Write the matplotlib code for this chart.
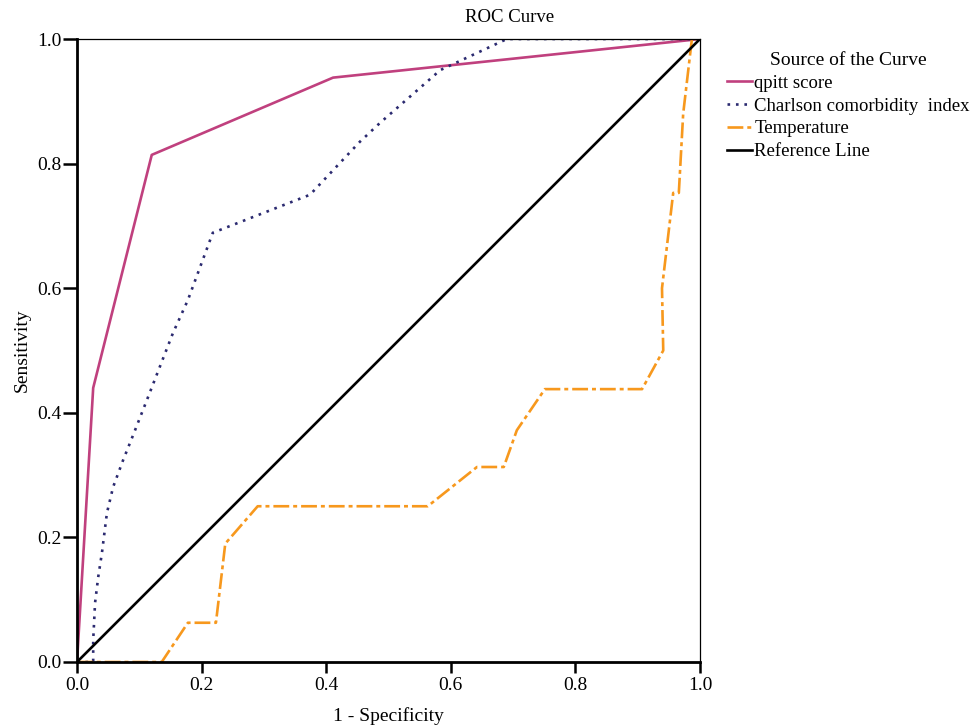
import matplotlib
matplotlib.use("Agg")
import matplotlib.pyplot as plt

plt.rcParams['font.family'] = ['Liberation Serif', 'DejaVu Serif']

# ROC points (1 - specificity, sensitivity)
qpitt_x = [0.0, 0.026, 0.12, 0.411, 1.0]
qpitt_y = [0.0, 0.44, 0.814, 0.938, 1.0]

charlson_x = [0.0, 0.026, 0.026, 0.029, 0.034, 0.04, 0.048, 0.058, 0.074, 0.09, 0.112,
              0.133, 0.154, 0.178, 0.218, 0.374, 0.454, 0.486, 0.583, 0.69, 1.0]
charlson_y = [0.0, 0.0, 0.035, 0.095, 0.136, 0.175, 0.239, 0.281, 0.324, 0.364, 0.42,
              0.474, 0.528, 0.581, 0.689, 0.75, 0.835, 0.865, 0.95, 1.0, 1.0]

temp_x = [0.0, 0.136, 0.178, 0.223, 0.238, 0.29, 0.563, 0.642, 0.685, 0.706, 0.751,
          0.907, 0.941, 0.939, 0.957, 0.966, 0.973, 0.987, 1.0]
temp_y = [0.0, 0.0, 0.063, 0.063, 0.19, 0.25, 0.25, 0.313, 0.313, 0.372, 0.438,
          0.438, 0.5, 0.6, 0.753, 0.753, 0.88, 1.0, 1.0]

ref_x = [0.0, 1.0]
ref_y = [0.0, 1.0]

fig = plt.figure(figsize=(9.74, 7.27), dpi=100)
ax = fig.add_axes([77/974, 65/727, 623/974, 623/727])

ax.plot(qpitt_x, qpitt_y, color='#C0407E', lw=1.9, label='qpitt score')
ax.plot(charlson_x, charlson_y, color='#2B2A70', lw=1.9, linestyle=(0, (1, 2.2)),
        label='Charlson comorbidity  index')
ax.plot(temp_x, temp_y, color='#F7981D', lw=1.9, linestyle=(0, (6, 1.5, 1.5, 1.5)),
        label='Temperature')
ax.plot(ref_x, ref_y, color='black', lw=1.9, label='Reference Line')

ax.set_xlim(0, 1)
ax.set_ylim(0, 1)
ax.set_xticks([0, 0.2, 0.4, 0.6, 0.8, 1.0])
ax.set_yticks([0, 0.2, 0.4, 0.6, 0.8, 1.0])
ax.xaxis.set_major_formatter(plt.FormatStrFormatter('%.1f'))
ax.yaxis.set_major_formatter(plt.FormatStrFormatter('%.1f'))
ax.tick_params(direction='out', width=1.8, labelsize=14)
ax.tick_params(axis='y', length=10, pad=1)
ax.tick_params(axis='x', length=8, pad=3)
for side in ['left', 'bottom']:
    ax.spines[side].set_linewidth(2.0)
for side in ['top', 'right']:
    ax.spines[side].set_linewidth(0.9)

ax.set_xlabel('1 - Specificity', fontsize=14, labelpad=9)
ax.set_ylabel('Sensitivity', fontsize=14, labelpad=5)
fig.text(510/974, 1 - 17/727, 'ROC Curve', ha='center', va='center', fontsize=13.5)

fig.legend(loc='upper left', bbox_to_anchor=(714/974, 1 - 39/727), frameon=False,
           title='Source of the Curve', fontsize=13.5, title_fontsize=14,
           handlelength=1.3, handletextpad=0.15, labelspacing=0.3, borderpad=0.2)

fig.savefig('out.png', dpi=100)
